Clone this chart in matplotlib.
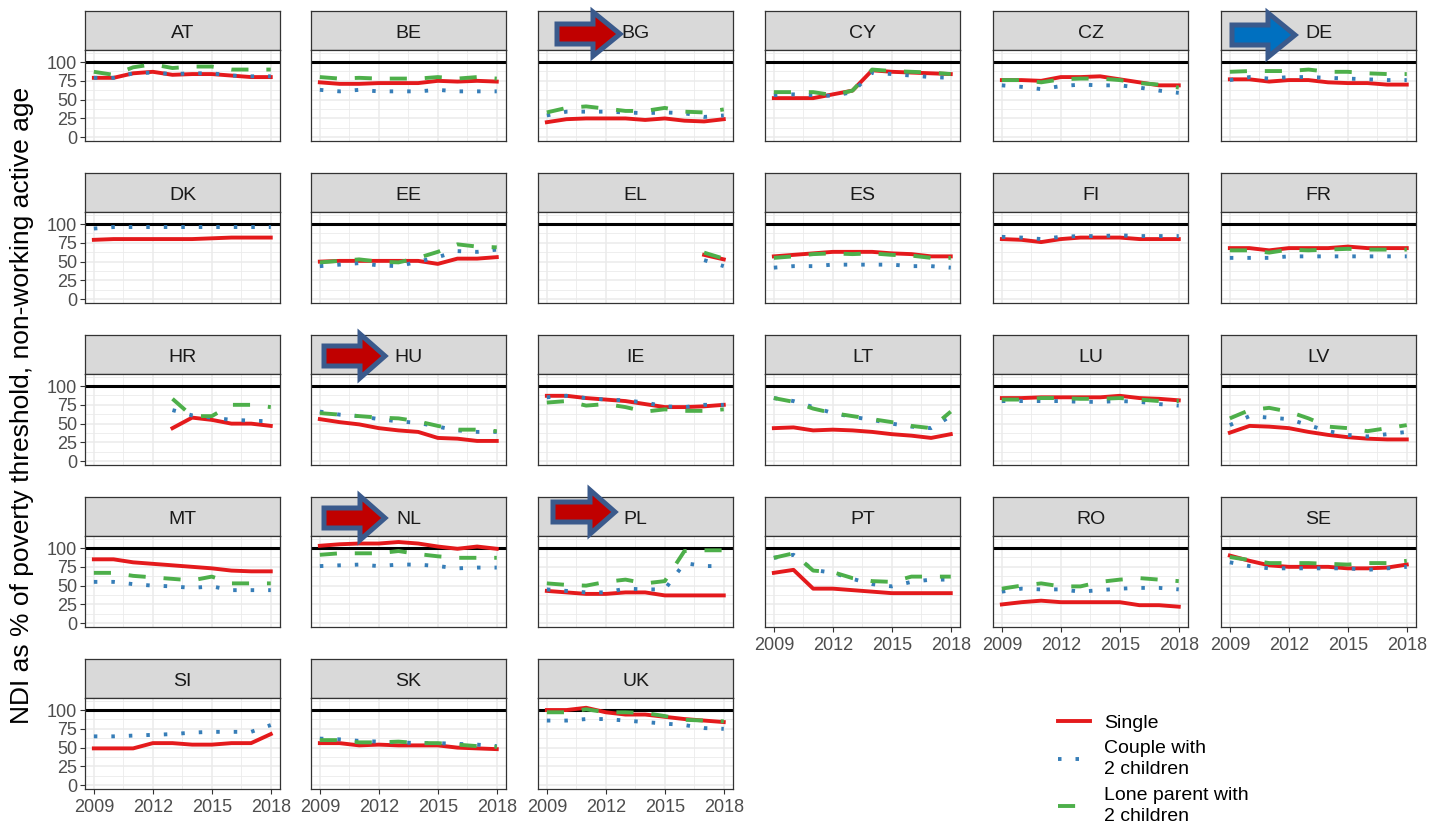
import numpy as np
import matplotlib.pyplot as plt
from matplotlib.patches import Polygon
from matplotlib.lines import Line2D

plt.rcParams['font.family'] = ['Liberation Sans', 'DejaVu Sans']

n = np.nan
years = np.arange(2009, 2019)
countries = ['AT', 'BE', 'BG', 'CY', 'CZ', 'DE',
             'DK', 'EE', 'EL', 'ES', 'FI', 'FR',
             'HR', 'HU', 'IE', 'LT', 'LU', 'LV',
             'MT', 'NL', 'PL', 'PT', 'RO', 'SE',
             'SI', 'SK', 'UK']

# Single
single = {
    'AT': [79, 79, 85, 87, 83, 84, 84, 82, 80, 80],
    'BE': [73, 71, 71, 72, 72, 72, 75, 74, 75, 74],
    'BG': [20, 24, 25, 25, 25, 23, 25, 22, 21, 24],
    'CY': [52, 52, 52, 57, 62, 89, 87, 86, 85, 84],
    'CZ': [76, 76, 75, 80, 80, 81, 77, 73, 69, 69],
    'DE': [77, 77, 74, 76, 76, 73, 72, 72, 70, 70],
    'DK': [79, 80, 80, 80, 80, 80, 81, 82, 82, 82],
    'EE': [50, 51, 51, 51, 51, 51, 47, 54, 54, 56],
    'EL': [n, n, n, n, n, n, n, n, 59, 53],
    'ES': [57, 59, 61, 63, 63, 63, 61, 60, 57, 57],
    'FI': [80, 79, 76, 80, 82, 82, 82, 80, 80, 80],
    'FR': [68, 68, 65, 68, 68, 68, 70, 68, 68, 68],
    'HR': [n, n, n, n, 44, 58, 55, 50, 50, 47],
    'HU': [56, 52, 49, 44, 41, 39, 31, 30, 27, 27],
    'IE': [87, 87, 84, 82, 80, 76, 72, 72, 73, 75],
    'LT': [44, 45, 41, 42, 41, 39, 36, 34, 31, 36],
    'LU': [84, 84, 85, 85, 85, 85, 87, 84, 83, 81],
    'LV': [38, 47, 46, 44, 39, 35, 32, 30, 29, 29],
    'MT': [85, 85, 81, 79, 77, 75, 73, 70, 69, 69],
    'NL': [103, 105, 106, 106, 108, 106, 102, 99, 102, 99],
    'PL': [43, 41, 39, 39, 41, 41, 37, 37, 37, 37],
    'PT': [67, 71, 46, 46, 44, 42, 40, 40, 40, 40],
    'RO': [25, 28, 30, 28, 28, 28, 28, 24, 24, 22],
    'SE': [90, 83, 77, 75, 75, 75, 73, 73, 74, 78],
    'SI': [49, 49, 49, 56, 56, 54, 54, 56, 56, 68],
    'SK': [56, 56, 53, 54, 53, 53, 53, 50, 49, 48],
    'UK': [100, 100, 103, 97, 94, 94, 91, 88, 86, 84],
}

# Couple with 2 children
couple = {
    'AT': [79, 79, 85, 86, 84, 85, 85, 82, 81, 81],
    'BE': [63, 61, 63, 61, 61, 61, 63, 61, 61, 61],
    'BG': [29, 34, 34, 34, 33, 32, 33, 32, 27, 29],
    'CY': [56, 57, 56, 55, 60, 86, 84, 82, 80, 79],
    'CZ': [69, 67, 64, 68, 70, 69, 69, 66, 62, 59],
    'DE': [76, 80, 78, 80, 80, 79, 78, 77, 76, 76],
    'DK': [94, 96, 96, 96, 96, 96, 96, 96, 96, 96],
    'EE': [44, 46, 48, 45, 44, 50, 56, 64, 63, 66],
    'EL': [n, n, n, n, n, n, n, n, 52, 44],
    'ES': [42, 44, 44, 46, 46, 46, 46, 44, 44, 42],
    'FI': [83, 82, 80, 83, 84, 84, 85, 84, 84, 84],
    'FR': [55, 55, 55, 57, 57, 57, 57, 57, 57, 57],
    'HR': [n, n, n, n, 68, 61, 58, 55, 54, 53],
    'HU': [66, 62, 60, 56, 53, 51, 46, 41, 39, 39],
    'IE': [85, 87, 84, 82, 81, 78, 73, 72, 75, 75],
    'LT': [84, 80, 72, 64, 59, 55, 50, 46, 44, 60],
    'LU': [80, 80, 80, 80, 79, 79, 80, 79, 76, 74],
    'LV': [48, 60, 58, 56, 48, 40, 35, 33, 36, 39],
    'MT': [55, 55, 52, 50, 49, 47, 49, 44, 44, 44],
    'NL': [76, 77, 78, 76, 78, 78, 76, 73, 74, 74],
    'PL': [45, 43, 41, 41, 46, 45, 45, 80, 76, 76],
    'PT': [87, 91, 71, 67, 59, 52, 49, 55, 58, 58],
    'RO': [42, 46, 45, 45, 42, 44, 46, 47, 47, 45],
    'SE': [81, 76, 73, 73, 73, 73, 73, 71, 73, 75],
    'SI': [65, 65, 66, 67, 68, 70, 71, 71, 71, 80],
    'SK': [62, 61, 59, 58, 57, 56, 56, 55, 54, 52],
    'UK': [86, 86, 88, 88, 86, 84, 82, 80, 76, 75],
}

# Lone parent with 2 children
lone = {
    'AT': [87, 83, 93, 97, 92, 94, 94, 90, 90, 90],
    'BE': [80, 78, 79, 78, 78, 78, 80, 78, 80, 78],
    'BG': [33, 39, 41, 38, 35, 35, 39, 34, 33, 37],
    'CY': [60, 60, 60, 56, 62, 90, 88, 87, 86, 84],
    'CZ': [76, 76, 73, 77, 78, 78, 76, 72, 70, 66],
    'DE': [87, 88, 88, 88, 90, 87, 87, 85, 84, 84],
    'DK': [n, n, n, n, n, n, n, n, n, n],
    'EE': [49, 51, 53, 50, 49, 55, 63, 73, 70, 69],
    'EL': [n, n, n, n, n, n, n, n, 62, 54],
    'ES': [55, 57, 60, 61, 60, 61, 59, 58, 55, 55],
    'FI': [n, n, n, n, n, n, n, n, n, n],
    'FR': [65, 65, 62, 66, 65, 66, 67, 66, 66, 66],
    'HR': [n, n, n, n, 83, 60, 60, 75, 75, 72],
    'HU': [64, 62, 60, 58, 57, 53, 47, 42, 42, 40],
    'IE': [78, 80, 74, 76, 72, 66, 69, 67, 67, 69],
    'LT': [84, 79, 70, 64, 60, 56, 52, 47, 44, 66],
    'LU': [82, 82, 84, 84, 83, 83, 84, 82, 80, 80],
    'LV': [57, 68, 71, 66, 57, 46, 44, 40, 44, 48],
    'MT': [67, 67, 63, 61, 59, 57, 62, 53, 53, 53],
    'NL': [91, 93, 93, 93, 96, 92, 89, 87, 87, 87],
    'PL': [53, 51, 50, 55, 58, 53, 56, 96, 97, 97],
    'PT': [87, 93, 70, 68, 60, 56, 55, 62, 62, 62],
    'RO': [46, 50, 53, 49, 49, 55, 58, 60, 58, 56],
    'SE': [88, 84, 80, 80, 80, 79, 78, 80, 80, 83],
    'SI': [n, n, n, n, n, n, n, n, n, n],
    'SK': [60, 60, 57, 57, 58, 56, 56, 54, 52, 51],
    'UK': [97, 97, 101, 97, 97, 96, 92, 87, 86, 85],
}

series = [
    ('Single', single, dict(color='#E41A1C', linestyle='-')),
    ('Couple with\n2 children', couple, dict(color='#377EB8', linestyle=(0, (0.9, 3.6)))),
    ('Lone parent with\n2 children', lone, dict(color='#4DAF4A', linestyle=(0, (4.4, 4.6)))),
]

W, H = 1431, 824
fig = plt.figure(figsize=(W / 100, H / 100), dpi=100)


def box(x, y, w, h):
    # pixel box (top-left origin) -> figure fraction
    return [x / W, 1 - (y + h) / H, w / W, h / H]


col_x = [85, 311, 538, 765, 993, 1221]
row_y = [11, 173, 335, 497, 659]
pw, sh, ph = 195, 39, 91
bottom_panels = ['PT', 'RO', 'SE', 'SI', 'SK', 'UK']

for i, c in enumerate(countries):
    r, k = divmod(i, 6)
    x0, y0 = col_x[k], row_y[r]

    # strip
    sax = fig.add_axes(box(x0, y0, pw, sh))
    sax.set_facecolor('#D9D9D9')
    sax.set_xticks([])
    sax.set_yticks([])
    for s in sax.spines.values():
        s.set_color('#333333')
        s.set_linewidth(0.9)
    sax.text(0.5, 0.43, c, ha='center', va='center', fontsize=14, color='#1A1A1A',
             transform=sax.transAxes)

    # panel
    ax = fig.add_axes(box(x0, y0 + sh, pw, ph))
    ax.set_xlim(2008.55, 2018.47)
    ax.set_ylim(-5, 116)
    ax.set_xticks([2009, 2012, 2015, 2018])
    ax.set_xticks([2010.5, 2013.5, 2016.5], minor=True)
    ax.set_yticks([0, 25, 50, 75, 100])
    ax.set_yticks([12.5, 37.5, 62.5, 87.5, 112.5], minor=True)
    ax.grid(which='major', color='#EBEBEB', linewidth=1.1)
    ax.grid(which='minor', color='#EBEBEB', linewidth=0.6)
    ax.set_axisbelow(True)
    for s in ax.spines.values():
        s.set_color('#333333')
        s.set_linewidth(0.9)

    ax.axhline(100, color='black', linewidth=2.2, zorder=2)
    for label, data, style in series:
        ax.plot(years, data[c], linewidth=2.8, dash_capstyle='butt', zorder=3, **style)

    ax.tick_params(which='minor', length=0)
    ax.tick_params(which='major', length=3.5, width=0.8, color='#333333',
                   labelcolor='#4D4D4D', labelsize=13, pad=2)
    ax.tick_params(axis='x', pad=4)
    if k != 0:
        ax.tick_params(axis='y', left=False, labelleft=False)
    if c not in bottom_panels:
        ax.tick_params(axis='x', bottom=False, labelbottom=False)

# arrows on some strips
arrows = [(557, 593, 620, 34, '#C00000'),
          (1232, 1268, 1295, 35, '#0070C0'),
          (324, 360, 385, 356, '#C00000'),
          (324, 360, 385, 518, '#C00000'),
          (553, 590, 615, 512, '#C00000')]
for xa, xh, xt, yc, fc in arrows:
    bh, hh = 10, 22
    pts = [(xa, yc - bh), (xh, yc - bh), (xh, yc - hh), (xt, yc),
           (xh, yc + hh), (xh, yc + bh), (xa, yc + bh)]
    pts = [(px / W, 1 - py / H) for px, py in pts]
    fig.add_artist(Polygon(pts, closed=True, facecolor=fc, edgecolor='#3A5A8C',
                           linewidth=3.6, joinstyle='miter', transform=fig.transFigure))

fig.text(22 / W, 1 - 405 / H, 'NDI as % of poverty threshold, non-working active age',
         rotation=90, ha='center', va='center', fontsize=19, color='black')

handles = [Line2D([], [], linewidth=2.8, dash_capstyle='butt', **style)
           for label, data, style in series]
labels = [label for label, data, style in series]
leg = fig.legend(handles, labels, loc='upper left', bbox_to_anchor=(1058 / W, 1 - 714 / H),
                 frameon=False, fontsize=14, handlelength=1.65, handletextpad=0.7,
                 borderpad=0, borderaxespad=0, labelspacing=0.45)
for t in leg.get_texts():
    t.set_linespacing(1.3)

fig.savefig('out.png', dpi=100)
plt.close()
